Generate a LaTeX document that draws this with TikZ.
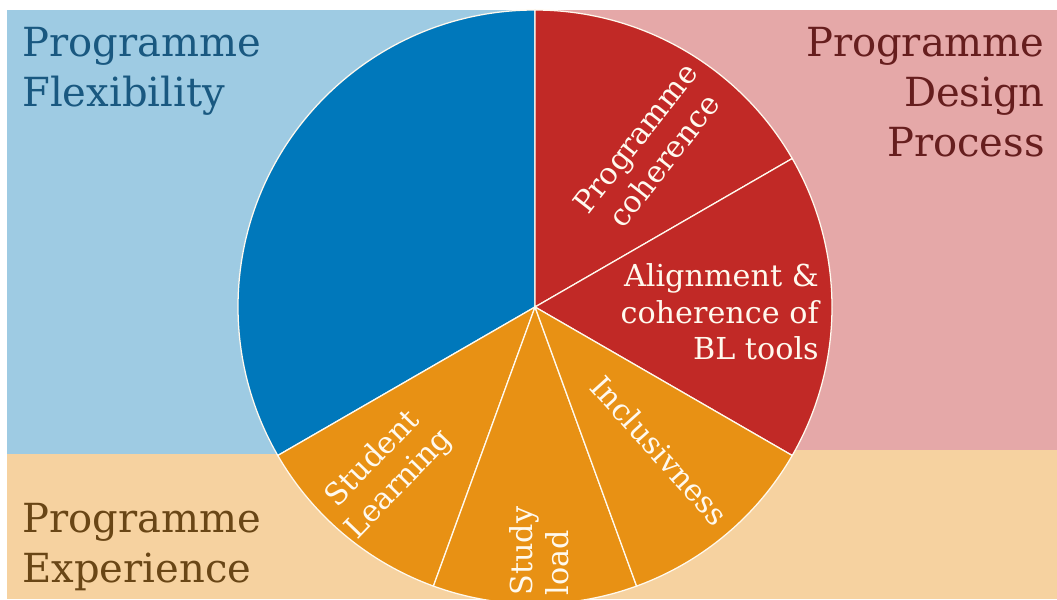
\documentclass[tikz,border=0pt]{standalone}
\usepackage{fontspec}
\setmainfont{DejaVu Serif}
\usetikzlibrary{calc}
\definecolor{bgblue}{RGB}{158,203,227}
\definecolor{bgpink}{RGB}{229,168,168}
\definecolor{bgorange}{RGB}{246,210,160}
\definecolor{sliceblue}{RGB}{0,120,187}
\definecolor{slicered}{RGB}{193,41,38}
\definecolor{sliceorange}{RGB}{232,145,20}
\definecolor{flextext}{RGB}{25,88,128}
\definecolor{designtext}{RGB}{102,30,30}
\definecolor{exptext}{RGB}{105,70,22}
\definecolor{labelwhite}{RGB}{255,249,238}

\begin{document}
\begin{tikzpicture}
  [x=0.025cm,y=0.025cm,
   slice/.style={draw=labelwhite,line width=0.9pt},
   areaN/.style={font=\fontsize{28.5}{35.5}\selectfont,inner sep=0pt},
   sliceN/.style={font=\fontsize{21.5}{25.8}\selectfont,text=labelwhite,
                  inner sep=0pt,align=center}]

  \useasboundingbox (0,0) rectangle (1057,599);
  \clip (0,0) rectangle (1057,599);

  % the three areas
  \fill[bgblue]   (7,145) rectangle (537,589);
  \fill[bgpink]   (537,149) rectangle (1057,589);
  \fill[bgorange] (7,0) rectangle (537,145);
  \fill[bgorange] (537,0) rectangle (1057,149);

  \coordinate (c) at (535,292);

  \filldraw[slice,fill=sliceblue]   (c) -- ++(90:297) arc[start angle=90,end angle=210,radius=297] -- cycle;
  \filldraw[slice,fill=slicered]    (c) -- ++(30:297) arc[start angle=30,end angle=90,radius=297] -- cycle;
  \filldraw[slice,fill=slicered]    (c) -- ++(-30:297) arc[start angle=-30,end angle=30,radius=297] -- cycle;
  \filldraw[slice,fill=sliceorange] (c) -- ++(210:297) arc[start angle=210,end angle=250,radius=297] -- cycle;
  \filldraw[slice,fill=sliceorange] (c) -- ++(250:297) arc[start angle=250,end angle=290,radius=297] -- cycle;
  \filldraw[slice,fill=sliceorange] (c) -- ++(290:297) arc[start angle=290,end angle=330,radius=297] -- cycle;

  % area titles
  \node[areaN,text=flextext,align=left,anchor=north west] (flex) at (22,572) {Programme\\Flexibility};
  \node[areaN,text=designtext,align=right,anchor=north east] (design) at (1045,572) {Programme\\Design\\Process};
  \node[areaN,text=exptext,align=left,anchor=south west] (exp) at (22,8) {Programme\\Experience};

  % slice labels
  \node[sliceN,rotate=52] (coh) at ($(c)+(54:195)$) {Programme\\coherence};
  \node[sliceN,align=right,anchor=east] (align) at (819,287) {Alignment \&\\coherence of\\BL tools};
  \node[sliceN,rotate=-48] (incl) at ($(c)+(-49:190)$) {Inclusivness};
  \node[sliceN,rotate=90,align=left] (load) at ($(c)+(-89:244)$) {Study\\load};
  \node[sliceN,rotate=46] (learn) at ($(c)+(228:222)$) {Student\\Learning};

\end{tikzpicture}
\end{document}
